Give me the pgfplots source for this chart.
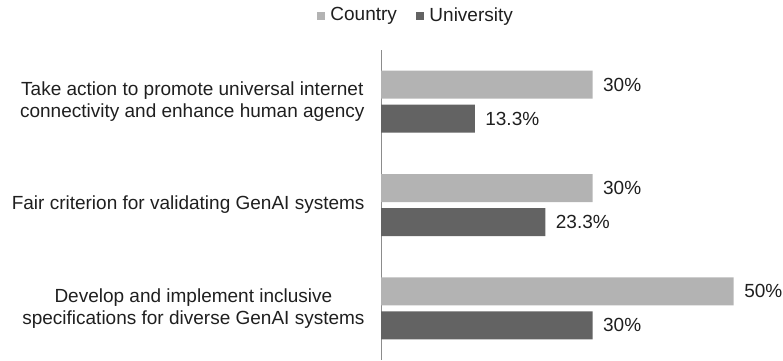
\documentclass[border=0pt]{standalone}
\usepackage{fontspec}
\setmainfont{Liberation Sans}
\usepackage{pgfplots}
\pgfplotsset{compat=1.18}
\definecolor{cLight}{HTML}{B3B3B3}
\definecolor{cDark}{HTML}{636363}
\definecolor{cAxis}{HTML}{8C8C8C}
\definecolor{cText}{HTML}{1F1F1F}
\begin{document}
\begin{tikzpicture}[x=1pt,y=1pt]
\path[use as bounding box] (0,0) rectangle (783,360);
\begin{axis}[
  at={(381pt,0pt)}, anchor=south west,
  scale only axis, width=388pt, height=310pt,
  xbar, bar width=28pt,
  xmin=0, xmax=55,
  ymin=-0.5, ymax=2.5, y dir=reverse,
  ytick={0,1,2},
  yticklabels={{Take action to promote universal internet\\connectivity and enhance human agency},
               {Fair criterion for validating GenAI systems},
               {Develop and implement inclusive\\specifications for diverse GenAI systems}},
  yticklabel style={align=center, font=\fontsize{19}{22}\selectfont, text=cText, xshift=-13pt},
  major tick length=0pt,
  hide x axis,
  axis y line*=left,
  y axis line style={cAxis, line width=1pt, -},
  /pgf/number format/assume math mode=true,
  nodes near coords={\pgfmathprintnumber{\pgfplotspointmeta}\%},
  nodes near coords style={font=\fontsize{19}{22}\selectfont, text=cText, anchor=west, xshift=7pt},
  legend style={at={(0.09,1.113)}, anchor=center, draw=none, legend columns=2,
    font=\fontsize{19}{22}\selectfont, text=cText,
    /tikz/every even column/.append style={column sep=17pt}},
  legend image code/.code={\fill[#1] (0pt,-5pt) rectangle (8pt,3pt); \path (11.5pt,0pt);},
  clip=false,
]
\addplot[fill=cLight, draw=none, bar shift=17pt] coordinates {(30,0) (30,1) (50,2)};
\addplot[fill=cDark, draw=none, bar shift=-17pt] coordinates {(13.3,0) (23.3,1) (30,2)};
\legend{Country, University}
\end{axis}
\end{tikzpicture}
\end{document}
